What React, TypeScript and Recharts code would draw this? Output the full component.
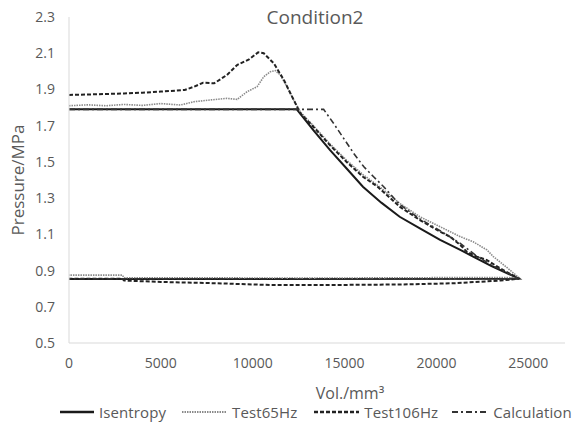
import React from "react";
import { LineChart, Line, XAxis, YAxis, Legend } from "recharts";

const xTicks = [0, 5000, 10000, 15000, 20000, 25000];
const yTicks = [0.5, 0.7, 0.9, 1.1, 1.3, 1.5, 1.7, 1.9, 2.1, 2.3];

const isentropy = [
  { x: 0, y: 1.79 }, { x: 12400, y: 1.79 }, { x: 13300, y: 1.676 }, { x: 14200, y: 1.566 },
  { x: 15100, y: 1.465 }, { x: 16000, y: 1.363 }, { x: 17000, y: 1.275 }, { x: 18000, y: 1.197 },
  { x: 19100, y: 1.133 }, { x: 20200, y: 1.069 }, { x: 21300, y: 1.014 }, { x: 22000, y: 0.977 },
  { x: 23000, y: 0.925 }, { x: 24500, y: 0.855 }, { x: 0, y: 0.853 },
];

const test65 = [
  { x: 0, y: 1.81 }, { x: 1000, y: 1.815 }, { x: 2000, y: 1.81 }, { x: 3000, y: 1.817 },
  { x: 4000, y: 1.812 }, { x: 5000, y: 1.822 }, { x: 6070, y: 1.814 }, { x: 6800, y: 1.832 },
  { x: 7700, y: 1.842 }, { x: 8600, y: 1.851 }, { x: 9150, y: 1.845 }, { x: 9700, y: 1.888 },
  { x: 10240, y: 1.915 }, { x: 10600, y: 1.97 }, { x: 10960, y: 1.998 }, { x: 11230, y: 2.004 },
  { x: 11500, y: 1.98 }, { x: 11870, y: 1.915 }, { x: 12230, y: 1.842 }, { x: 12600, y: 1.775 },
  { x: 13300, y: 1.7 }, { x: 14200, y: 1.6 }, { x: 15100, y: 1.51 }, { x: 16000, y: 1.43 },
  { x: 17000, y: 1.355 }, { x: 18000, y: 1.271 }, { x: 19100, y: 1.197 }, { x: 20200, y: 1.142 },
  { x: 21300, y: 1.087 }, { x: 22000, y: 1.059 }, { x: 22750, y: 1.014 }, { x: 23100, y: 0.977 },
  { x: 23800, y: 0.92 }, { x: 24500, y: 0.86 }, { x: 23000, y: 0.862 }, { x: 18000, y: 0.86 },
  { x: 12000, y: 0.858 }, { x: 8000, y: 0.86 }, { x: 3000, y: 0.86 }, { x: 2900, y: 0.875 },
  { x: 0, y: 0.875 },
];

const test106 = [
  { x: 0, y: 1.87 }, { x: 1000, y: 1.872 }, { x: 2000, y: 1.875 }, { x: 3000, y: 1.878 },
  { x: 4000, y: 1.882 }, { x: 5000, y: 1.888 }, { x: 6300, y: 1.897 }, { x: 6800, y: 1.915 },
  { x: 7300, y: 1.937 }, { x: 7900, y: 1.934 }, { x: 8600, y: 1.98 }, { x: 9150, y: 2.035 },
  { x: 9800, y: 2.066 }, { x: 10300, y: 2.105 }, { x: 10600, y: 2.1 }, { x: 11150, y: 2.044 },
  { x: 11700, y: 1.952 }, { x: 12230, y: 1.842 }, { x: 12600, y: 1.768 }, { x: 13300, y: 1.694 },
  { x: 14200, y: 1.593 }, { x: 15100, y: 1.501 }, { x: 16000, y: 1.418 }, { x: 16800, y: 1.363 },
  { x: 18000, y: 1.253 }, { x: 19100, y: 1.179 }, { x: 20200, y: 1.115 }, { x: 20750, y: 1.087 },
  { x: 21300, y: 1.041 }, { x: 21650, y: 1.004 }, { x: 22200, y: 0.977 }, { x: 22750, y: 0.958 },
  { x: 23500, y: 0.91 }, { x: 24500, y: 0.855 }, { x: 23500, y: 0.845 }, { x: 21000, y: 0.83 },
  { x: 18000, y: 0.823 }, { x: 14000, y: 0.82 }, { x: 11000, y: 0.82 }, { x: 8000, y: 0.83 },
  { x: 5000, y: 0.837 }, { x: 3000, y: 0.845 }, { x: 2900, y: 0.855 }, { x: 0, y: 0.855 },
];

const calculation = [
  { x: 0, y: 1.79 }, { x: 13860, y: 1.79 }, { x: 14400, y: 1.713 }, { x: 14950, y: 1.63 },
  { x: 15500, y: 1.547 }, { x: 16040, y: 1.474 }, { x: 16580, y: 1.418 }, { x: 17130, y: 1.363 },
  { x: 18000, y: 1.265 }, { x: 19100, y: 1.185 }, { x: 20200, y: 1.12 }, { x: 21300, y: 1.05 },
  { x: 22200, y: 0.98 }, { x: 23000, y: 0.93 }, { x: 24500, y: 0.855 }, { x: 0, y: 0.855 },
];

const seriesNames = ["Isentropy", "Test65Hz", "Test106Hz", "Calculation"];
const seriesData = [isentropy, test65, test106, calculation];

const seriesStyle = [
  { color: "#1a1a1a", width: 2, dash: undefined as string | undefined, icon: 34, gap: 0 },
  { color: "#8a8a8a", width: 1.6, dash: "1.5 1", icon: 45, gap: 16 },
  { color: "#222222", width: 2, dash: "4 2", icon: 45, gap: 17 },
  { color: "#333333", width: 1.6, dash: "6 3 2 3", icon: 36, gap: 14 },
];

const FONT = "'Open Sans', sans-serif";
const TEXT = "#595959";

const LegendContent = () => (
  <div
    style={{
      display: "flex",
      justifyContent: "flex-start",
      alignItems: "center",
      paddingLeft: 60,
      height: 20,
      fontFamily: FONT,
      fontSize: 15,
      color: TEXT,
    }}
  >
    {seriesNames.map((name, i) => (
      <div key={name} style={{ display: "flex", alignItems: "center", marginLeft: seriesStyle[i].gap }}>
        <svg width={seriesStyle[i].icon} height={10} style={{ marginRight: 5 }}>
          <line
            x1={0}
            y1={5}
            x2={seriesStyle[i].icon}
            y2={5}
            stroke={seriesStyle[i].color}
            strokeWidth={seriesStyle[i].width + 0.4}
            strokeDasharray={seriesStyle[i].dash}
          />
        </svg>
        <span style={{ letterSpacing: 0.1 }}>{name}</span>
      </div>
    ))}
  </div>
);

const YLabel = (props: any) => {
  const vb = props.viewBox || { x: 0, y: 17, width: 69, height: 326 };
  const cx = vb.x + 17;
  const cy = vb.y + vb.height / 2;
  return (
    <text
      x={cx}
      y={cy}
      transform={`rotate(-90, ${cx}, ${cy})`}
      textAnchor="middle"
      dominantBaseline="central"
      fill={TEXT}
      fontSize={17}
      fontFamily={FONT}
    >
      Pressure/MPa
    </text>
  );
};

const XLabel = () => (
  <text x={350} y={399} textAnchor="middle" fill={TEXT} fontSize={16} fontFamily={FONT}>
    Vol./mm³
  </text>
);

export default function App() {
  return (
    <div style={{ position: "absolute", left: 0, top: 0, width: 582, height: 422, background: "#fff" }}>
      <div
        style={{
          position: "absolute",
          left: 0,
          width: 630,
          top: 4,
          textAlign: "center",
          fontFamily: FONT,
          fontSize: 19,
          color: TEXT,
          zIndex: 2,
          pointerEvents: "none",
        }}
      >
        Condition2
      </div>
      <LineChart width={582} height={422} margin={{ top: 17, right: 17, bottom: 0, left: 0 }}>
        <XAxis
          type="number"
          dataKey="x"
          domain={[0, 27000]}
          ticks={xTicks}
          tickLine={false}
          tickSize={0}
          tickMargin={15}
          axisLine={{ stroke: "#d9d9d9", strokeWidth: 1 }}
          tick={{ fill: TEXT, fontSize: 14, fontFamily: FONT }}
          height={59}
          allowDataOverflow
          label={<XLabel />}
        />
        <YAxis
          type="number"
          domain={[0.5, 2.3]}
          ticks={yTicks}
          tickFormatter={(v: number) => v.toFixed(1)}
          tickLine={false}
          tickSize={0}
          tickMargin={14}
          axisLine={{ stroke: "#d9d9d9", strokeWidth: 1 }}
          tick={{ fill: TEXT, fontSize: 14, fontFamily: FONT }}
          width={69}
          allowDataOverflow
          label={<YLabel />}
        />
        <Legend
          verticalAlign="bottom"
          align="left"
          height={20}
          wrapperStyle={{ left: 0, width: 582 }}
          content={<LegendContent />}
        />
        {seriesNames.map((name, i) => (
          <Line
            key={name}
            name={name}
            data={seriesData[i]}
            dataKey="y"
            type="linear"
            stroke={seriesStyle[i].color}
            strokeWidth={seriesStyle[i].width}
            strokeDasharray={seriesStyle[i].dash}
            dot={false}
            activeDot={false}
            isAnimationActive={false}
          />
        ))}
      </LineChart>
    </div>
  );
}
